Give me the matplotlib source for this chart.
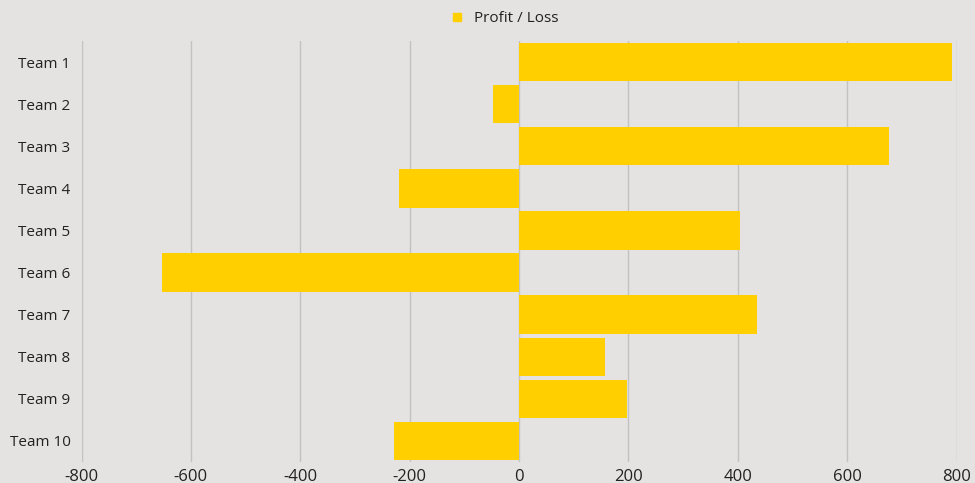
import matplotlib
matplotlib.use('Agg')
import matplotlib.pyplot as plt
from matplotlib.lines import Line2D

# data
teams = ['Team 1', 'Team 2', 'Team 3', 'Team 4', 'Team 5',
         'Team 6', 'Team 7', 'Team 8', 'Team 9', 'Team 10']
profit_loss = [792, -48, 676, -219, 405, -652, 436, 158, 197, -228]
x_ticks = [-800, -600, -400, -200, 0, 200, 400, 600, 800]

bg = '#e4e3e1'
bar_color = '#ffcf00'

plt.rcParams['font.family'] = ['Open Sans', 'DejaVu Sans']

fig = plt.figure(figsize=(9.75, 4.83), dpi=100, facecolor=bg)
ax = fig.add_axes([81.5 / 975, 21 / 483, 875 / 975, 421 / 483])
ax.set_facecolor(bg)

y_pos = list(range(len(teams)))
ax.barh(y_pos, profit_loss, height=0.91, color=bar_color, zorder=3)

ax.set_ylim(len(teams) - 0.5, -0.5)
ax.set_xlim(-800, 800)
ax.set_xticks(x_ticks)
ax.set_xticklabels([str(t) for t in x_ticks], fontsize=12, color='#222222')
ax.set_yticks(y_pos)
ax.set_yticklabels(teams, fontsize=11, color='#222222')
ax.tick_params(axis='y', length=0, pad=8)
ax.tick_params(axis='x', length=0, pad=5)

ax.grid(axis='x', color='#c2c2c2', linewidth=1, zorder=0)
for s in ax.spines.values():
    s.set_visible(False)

# legend at top
handle = Line2D([], [], marker='s', linestyle='none', color=bar_color, markersize=6)
fig.legend([handle], ['Profit / Loss'], loc='center', bbox_to_anchor=(500 / 975, 1 - 19 / 483),
           frameon=False, fontsize=11, handletextpad=0.1, labelcolor='#222222')

fig.savefig('out.png', dpi=100, facecolor=bg)
